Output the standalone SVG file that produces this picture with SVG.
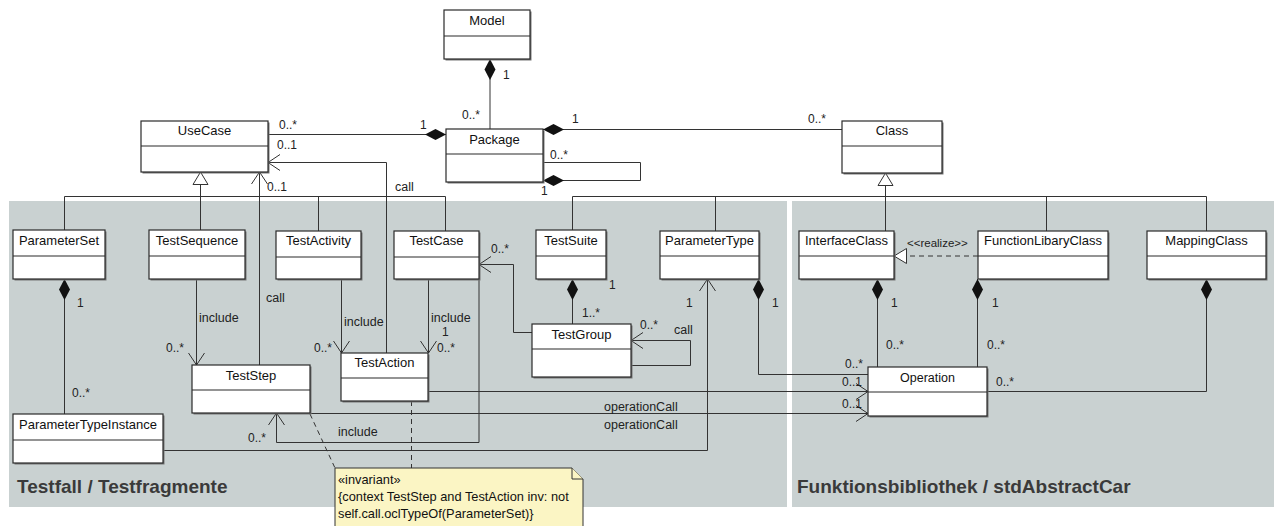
<svg xmlns="http://www.w3.org/2000/svg" width="1274" height="526" viewBox="0 0 1274 526">
<style>
.panel{fill:#c9d1d1}
.node .sh{fill:#777}
.node rect.b{fill:#fff;stroke:#2a2a2a;stroke-width:1.2}
.node line{stroke:#2a2a2a;stroke-width:1.2}
.node text{font-family:"Liberation Sans",Arial,sans-serif;font-size:13px;fill:#111;text-anchor:middle}
.conn path{fill:none;stroke:#333;stroke-width:1}
.conn .dash{stroke-dasharray:5,4}
.lbl{font-family:"Liberation Sans",Arial,sans-serif;font-size:12.5px;fill:#222}
.m{font-family:"Liberation Sans",Arial,sans-serif;font-size:12px;fill:#222}
.title{font-family:"Liberation Sans",Arial,sans-serif;font-size:19px;font-weight:bold;fill:#3a3a3a}
.note{fill:#fbf5c4;stroke:#333;stroke-width:1}
.nt{font-family:"Liberation Sans",Arial,sans-serif;font-size:12.8px;fill:#111}
</style>
<defs>
<marker id="dia" viewBox="-1 -7 23 14" refX="0" refY="0" markerWidth="23" markerHeight="14" markerUnits="userSpaceOnUse" orient="auto"><path d="M0,0 L10.5,-5.5 L21,0 L10.5,5.5 Z" fill="#111"/></marker>
<marker id="open" viewBox="-14 -10 16 20" refX="0" refY="0" markerWidth="16" markerHeight="20" markerUnits="userSpaceOnUse" orient="auto"><path d="M-12,-8 L0,0 L-12,8" fill="none" stroke="#333" stroke-width="1"/></marker>
<marker id="tri" viewBox="-14 -10 16 20" refX="0" refY="0" markerWidth="16" markerHeight="20" markerUnits="userSpaceOnUse" orient="auto"><path d="M-12.5,-7.5 L0,0 L-12.5,7.5 Z" fill="#fff" stroke="#333" stroke-width="1"/></marker>
</defs>
<rect width="1274" height="526" fill="#fff"/>
<rect class="panel" x="9" y="201" width="778" height="306"/>
<rect class="panel" x="792" y="201" width="482" height="306"/>
<text class="title" x="17" y="493">Testfall / Testfragmente</text>
<text class="title" x="797" y="493">Funktionsbibliothek / stdAbstractCar</text>

<g id="connectors" class="conn">
<path d="M490,59 V129" marker-start="url(#dia)"/>
<path d="M446,134.5 H268" marker-start="url(#dia)"/>
<path d="M543,129.5 H842" marker-start="url(#dia)"/>
<path d="M543,180.5 H640.5 V162.5 H543" marker-start="url(#dia)"/>
<path d="M200.5,230 V172" marker-end="url(#tri)"/>
<path d="M64.5,230 V196.5 H445.5 V231 M318.5,196.5 V231"/>
<path d="M885.5,231 V173" marker-end="url(#tri)"/>
<path d="M572.5,230 V196.5 H1206.5 V231 M715.5,196.5 V231 M1046.5,196.5 V231"/>
<path class="dash" d="M978,256 H894" marker-end="url(#tri)"/>
<path d="M64.5,279 V414" marker-start="url(#dia)"/>
<path d="M196.5,279 V365" marker-end="url(#open)"/>
<path d="M259.5,365 V172" marker-end="url(#open)"/>
<path d="M386.5,353 V162.5 H268" marker-end="url(#open)"/>
<path d="M341.5,279 V353" marker-end="url(#open)"/>
<path d="M428.5,279 V353" marker-end="url(#open)"/>
<path d="M479,279 V442.5 H276.5 V413" marker-end="url(#open)"/>
<path d="M572.5,279 V324" marker-start="url(#dia)"/>
<path d="M532,332.5 H513.5 V264.5 H479" marker-end="url(#open)"/>
<path d="M631,365.5 H690.5 V340.5 H631" marker-end="url(#open)"/>
<path d="M428,391.5 H868" marker-end="url(#open)"/>
<path d="M310,413.5 H868" marker-end="url(#open)"/>
<path d="M758.5,279 V374.5 H868" marker-start="url(#dia)"/>
<path d="M163,450.5 H707.5 V279" marker-end="url(#open)"/>
<path d="M877.5,279 V367" marker-start="url(#dia)"/>
<path d="M977.5,279 V367" marker-start="url(#dia)"/>
<path d="M1206.5,279 V391.5 H987" marker-start="url(#dia)"/>
<path class="dash" d="M310,414 L335,468"/>
<path class="dash" d="M411.5,401 V468"/>
</g>

<g id="labels">
<text class="m" x="503" y="79">1</text>
<text class="m" x="462" y="119">0..*</text>
<text class="m" x="279" y="129">0..*</text>
<text class="m" x="420" y="129">1</text>
<text class="m" x="572" y="123">1</text>
<text class="m" x="808" y="123">0..*</text>
<text class="m" x="550" y="159">0..*</text>
<text class="m" x="541" y="195">1</text>
<text class="lbl" x="907" y="247" style="font-size:11.5px">&lt;&lt;realize&gt;&gt;</text>
<text class="m" x="77" y="307">1</text>
<text class="m" x="72" y="397">0..*</text>
<text class="lbl" x="199" y="322">include</text>
<text class="m" x="166" y="352">0..*</text>
<text class="m" x="267" y="191">0..1</text>
<text class="lbl" x="266" y="302">call</text>
<text class="m" x="277" y="149">0..1</text>
<text class="lbl" x="395" y="191">call</text>
<text class="lbl" x="344" y="326">include</text>
<text class="m" x="314" y="352">0..*</text>
<text class="lbl" x="431" y="322">include</text>
<text class="m" x="442" y="336">1</text>
<text class="m" x="437" y="352">0..*</text>
<text class="lbl" x="338" y="436">include</text>
<text class="m" x="248" y="442">0..*</text>
<text class="m" x="609" y="289">1</text>
<text class="m" x="582" y="317">1..*</text>
<text class="m" x="491" y="253">0..*</text>
<text class="m" x="640" y="329">0..*</text>
<text class="lbl" x="674" y="334">call</text>
<text class="lbl" x="604" y="411">operationCall</text>
<text class="lbl" x="604" y="429">operationCall</text>
<text class="m" x="842" y="386">0..1</text>
<text class="m" x="842" y="408">0..1</text>
<text class="m" x="772" y="307">1</text>
<text class="m" x="845" y="368">0..*</text>
<text class="m" x="686" y="307">1</text>
<text class="m" x="891" y="307">1</text>
<text class="m" x="886" y="349">0..*</text>
<text class="m" x="992" y="307">1</text>
<text class="m" x="987" y="349">0..*</text>
<text class="m" x="996" y="386">0..*</text>
</g>

<g id="n-model" class="node"><rect class="sh" x="445.5" y="11.5" width="86" height="49"/><rect class="b" x="444" y="10" width="86" height="49"/><line x1="444" y1="36" x2="530" y2="36"/><text x="487" y="25">Model</text></g>
<g id="n-package" class="node"><rect class="sh" x="447.5" y="130.5" width="97" height="53"/><rect class="b" x="446" y="129" width="97" height="53"/><line x1="446" y1="154" x2="543" y2="154"/><text x="494.5" y="144">Package</text></g>
<g id="n-usecase" class="node"><rect class="sh" x="142.5" y="122.5" width="127" height="51"/><rect class="b" x="141" y="121" width="127" height="51"/><line x1="141" y1="146" x2="268" y2="146"/><text x="204.5" y="135">UseCase</text></g>
<g id="n-class" class="node"><rect class="sh" x="843.5" y="122.5" width="100" height="52"/><rect class="b" x="842" y="121" width="100" height="52"/><line x1="842" y1="146" x2="942" y2="146"/><text x="892" y="135">Class</text></g>
<g id="n-parameterset" class="node"><rect class="sh" x="14.5" y="231.5" width="92" height="49"/><rect class="b" x="13" y="230" width="92" height="49"/><line x1="13" y1="256" x2="105" y2="256"/><text x="59" y="245">ParameterSet</text></g>
<g id="n-testsequence" class="node"><rect class="sh" x="150.5" y="231.5" width="96" height="49"/><rect class="b" x="149" y="230" width="96" height="49"/><line x1="149" y1="256" x2="245" y2="256"/><text x="197" y="245">TestSequence</text></g>
<g id="n-testactivity" class="node"><rect class="sh" x="277.5" y="232.5" width="85" height="48"/><rect class="b" x="276" y="231" width="85" height="48"/><line x1="276" y1="257" x2="361" y2="257"/><text x="318.5" y="245">TestActivity</text></g>
<g id="n-testcase" class="node"><rect class="sh" x="395.5" y="232.5" width="85" height="48"/><rect class="b" x="394" y="231" width="85" height="48"/><line x1="394" y1="257" x2="479" y2="257"/><text x="436.5" y="245">TestCase</text></g>
<g id="n-testsuite" class="node"><rect class="sh" x="537.5" y="231.5" width="70" height="49"/><rect class="b" x="536" y="230" width="70" height="49"/><line x1="536" y1="256" x2="606" y2="256"/><text x="571" y="245">TestSuite</text></g>
<g id="n-parametertype" class="node"><rect class="sh" x="661.5" y="232.5" width="99" height="48"/><rect class="b" x="660" y="231" width="99" height="48"/><line x1="660" y1="256" x2="759" y2="256"/><text x="709.5" y="245">ParameterType</text></g>
<g id="n-interfaceclass" class="node"><rect class="sh" x="800.5" y="232.5" width="95" height="48"/><rect class="b" x="799" y="231" width="95" height="48"/><line x1="799" y1="256" x2="894" y2="256"/><text x="846.5" y="245">InterfaceClass</text></g>
<g id="n-functionlibaryclass" class="node"><rect class="sh" x="979.5" y="232.5" width="130" height="48"/><rect class="b" x="978" y="231" width="130" height="48"/><line x1="978" y1="256" x2="1108" y2="256"/><text x="1043" y="245">FunctionLibaryClass</text></g>
<g id="n-mappingclass" class="node"><rect class="sh" x="1148.5" y="232.5" width="119" height="48"/><rect class="b" x="1147" y="231" width="119" height="48"/><line x1="1147" y1="256" x2="1266" y2="256"/><text x="1206.5" y="245">MappingClass</text></g>
<g id="n-teststep" class="node"><rect class="sh" x="193.5" y="366.5" width="118" height="48"/><rect class="b" x="192" y="365" width="118" height="48"/><line x1="192" y1="390" x2="310" y2="390"/><text x="251" y="380">TestStep</text></g>
<g id="n-testaction" class="node"><rect class="sh" x="342.5" y="354.5" width="87" height="48"/><rect class="b" x="341" y="353" width="87" height="48"/><line x1="341" y1="378" x2="428" y2="378"/><text x="384.5" y="367">TestAction</text></g>
<g id="n-testgroup" class="node"><rect class="sh" x="533.5" y="325.5" width="99" height="53"/><rect class="b" x="532" y="324" width="99" height="53"/><line x1="532" y1="349" x2="631" y2="349"/><text x="581.5" y="339">TestGroup</text></g>
<g id="n-operation" class="node"><rect class="sh" x="869.5" y="368.5" width="119" height="49"/><rect class="b" x="868" y="367" width="119" height="49"/><line x1="868" y1="392" x2="987" y2="392"/><text x="927.5" y="382" style="font-size:12.5px">Operation</text></g>
<g id="n-parametertypeinstance" class="node"><rect class="sh" x="14.5" y="415.5" width="150" height="49"/><rect class="b" x="13" y="414" width="150" height="49"/><line x1="13" y1="440" x2="163" y2="440"/><text x="88" y="429">ParameterTypeInstance</text></g>

<g id="n-note">
<path class="note" d="M335,468 H572 L583,479 V530 H335 Z"/>
<path class="note" d="M572,468 V479 H583"/>
<text class="nt" x="338" y="484">«invariant»</text>
<text class="nt" x="338" y="501">{context TestStep and TestAction inv: not</text>
<text class="nt" x="338" y="518">self.call.oclTypeOf(ParameterSet)}</text>
</g>
</svg>
